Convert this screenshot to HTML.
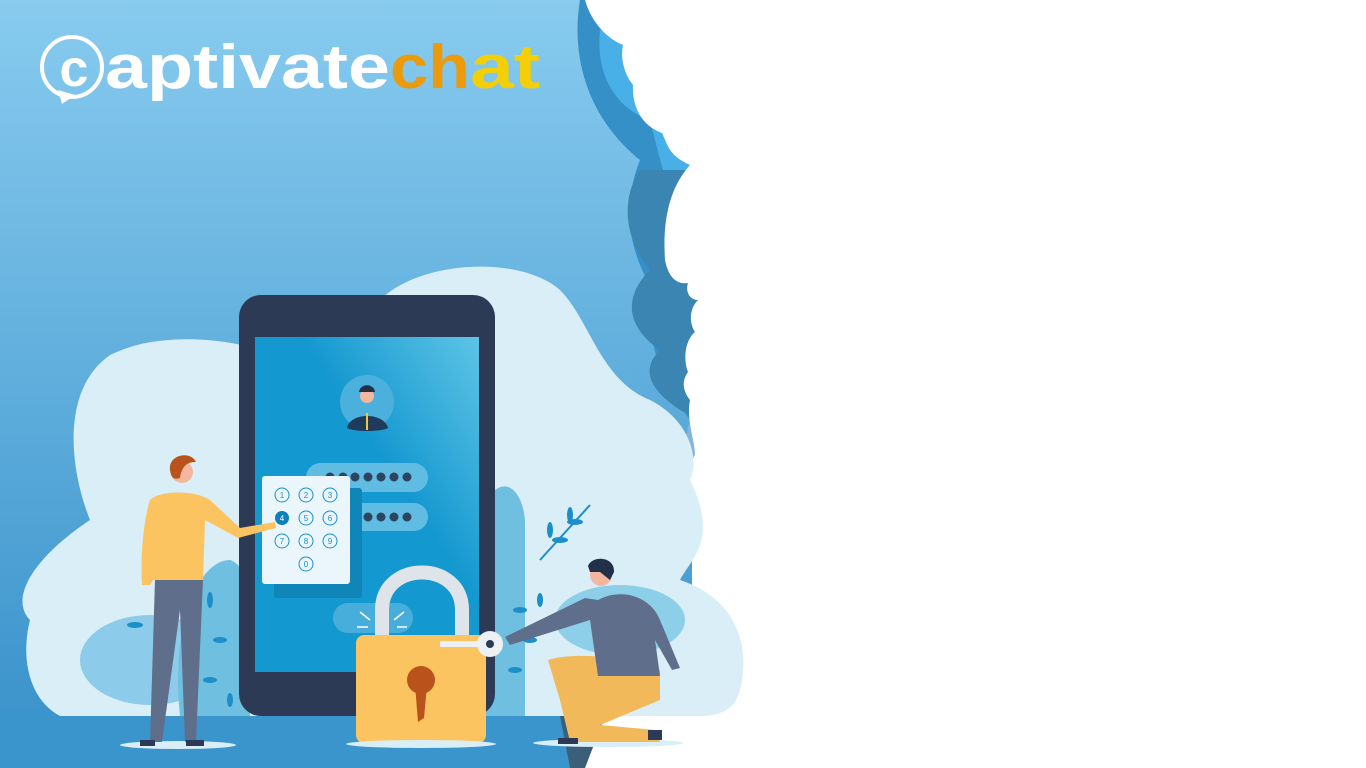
<!DOCTYPE html>
<html><head><meta charset="utf-8"><style>
html,body{margin:0;padding:0;width:1366px;height:768px;overflow:hidden;background:#fff}
svg{display:block}
</style></head><body>
<svg width="1366" height="768" viewBox="0 0 1366 768" xmlns="http://www.w3.org/2000/svg">
<defs>
<linearGradient id="bg" x1="0" y1="0" x2="0" y2="1">
<stop offset="0" stop-color="#88cbef"/><stop offset="1" stop-color="#3690c9"/>
</linearGradient>
<linearGradient id="scr" x1="0" y1="1" x2="1" y2="0">
<stop offset="0.6" stop-color="#1498d0"/><stop offset="1" stop-color="#5ec4e6"/>
</linearGradient>
</defs>
<rect width="1366" height="768" fill="url(#bg)"/>
<!-- dark wave layers -->
<path d="M580 0 C570 60 590 120 640 160 C620 210 630 260 660 300 C640 330 660 380 690 420 L740 420 L740 0Z" fill="#3490c6"/>
<path d="M600 30 C595 80 620 110 650 120 C660 160 670 200 690 250 L700 250 L700 30Z" fill="#48b0e6"/>
<path d="M640 170 C620 200 625 240 650 270 C620 300 630 330 660 350 C640 370 650 390 680 410 L700 420 L700 170Z" fill="#3a85b2"/>
<path d="M690 420 C680 460 670 500 665 540 L700 540 L700 420Z" fill="#86b4df"/>
<!-- white right region -->
<path d="M585 0 C592 25 610 40 623 45 C620 60 625 75 633 85 C632 105 640 125 662 133 C668 145 668 155 690 165 C672 185 662 215 665 260 C668 275 675 285 688 283 C685 292 690 300 698 300 C688 310 690 325 695 332 C685 340 683 360 688 372 C682 380 682 390 690 400 C686 420 695 440 695 455 C685 470 682 490 695 500 C682 520 685 540 692 560 L692 716 L600 716 L582 768 L1366 768 L1366 0Z" fill="#fff"/>
<!-- light cloud -->
<path d="M30 620 C10 600 30 560 90 520 C70 470 60 390 110 355 C160 330 230 340 260 350 L380 300 C420 260 520 255 560 290 C590 320 600 380 650 400 C690 420 700 460 690 480 C720 540 690 560 680 580 C740 600 750 650 740 690 C735 710 720 716 700 716 L60 716 C30 700 20 660 30 620Z" fill="#d9eef7"/>
<rect x="0" y="716" width="580" height="52" fill="#3a95cd"/>
<path d="M560 716 L605 716 L585 768 L570 768Z" fill="#3b5f78"/>
<!-- background plants -->
<ellipse cx="150" cy="660" rx="70" ry="45" fill="#8cccea"/>
<ellipse cx="620" cy="620" rx="65" ry="35" fill="#8dcfe8"/>
<path d="M470 560 C480 470 520 470 525 520 L525 716 L470 716Z" fill="#6fc0e0"/>
<path d="M180 716 C170 620 200 560 230 560 C260 570 250 650 250 716Z" fill="#6fc0e0"/>
<g fill="#1c8fca">
<path d="M540 560 l50 -55" stroke="#1c8fca" stroke-width="2"/>
<ellipse cx="560" cy="540" rx="8" ry="3"/><ellipse cx="575" cy="522" rx="8" ry="3"/><ellipse cx="550" cy="530" rx="3" ry="8"/><ellipse cx="570" cy="515" rx="3" ry="8"/>
<ellipse cx="520" cy="610" rx="7" ry="3"/><ellipse cx="530" cy="640" rx="7" ry="3"/><ellipse cx="515" cy="670" rx="7" ry="3"/><ellipse cx="540" cy="600" rx="3" ry="7"/>
<ellipse cx="135" cy="625" rx="8" ry="3"/><ellipse cx="210" cy="600" rx="3" ry="8"/><ellipse cx="220" cy="640" rx="7" ry="3"/><ellipse cx="210" cy="680" rx="7" ry="3"/><ellipse cx="230" cy="700" rx="3" ry="7"/>
</g>
<!-- phone -->
<rect x="239" y="295" width="256" height="421" rx="22" fill="#2d3a55"/>
<rect x="255" y="337" width="224" height="335" fill="url(#scr)"/>
<circle cx="367" cy="402" r="27" fill="#4bb0dc"/>
<path d="M347 428 C350 412 384 412 388 428 C380 432 355 432 347 428Z" fill="#1f3a5a"/>
<rect x="366" y="413" width="2" height="17" fill="#f4c63d"/>
<circle cx="367" cy="396" r="7" fill="#f3b7a0"/>
<path d="M359 392 C360 383 374 383 375 392Z" fill="#23304a"/>
<rect x="306" y="463" width="122" height="29" rx="14.5" fill="#60bce3"/>
<rect x="306" y="503" width="122" height="28" rx="14" fill="#60bce3"/>
<g fill="#2d4460">
<circle cx="330" cy="477" r="4.5"/><circle cx="343" cy="477" r="4.5"/><circle cx="355" cy="477" r="4.5"/><circle cx="368" cy="477" r="4.5"/><circle cx="381" cy="477" r="4.5"/><circle cx="394" cy="477" r="4.5"/><circle cx="407" cy="477" r="4.5"/>
<circle cx="355" cy="517" r="4.5"/><circle cx="368" cy="517" r="4.5"/><circle cx="381" cy="517" r="4.5"/><circle cx="394" cy="517" r="4.5"/><circle cx="407" cy="517" r="4.5"/>
</g>
<rect x="333" y="603" width="80" height="30" rx="15" fill="#47aedb"/>
<!-- keypad -->
<rect x="274" y="488" width="88" height="110" rx="3" fill="#0f85b8"/>
<rect x="262" y="476" width="88" height="108" rx="3" fill="#eaf6fb"/>
<g font-family="Liberation Sans, sans-serif" font-size="8" fill="#1c8fca" text-anchor="middle" stroke-width="1">
<g fill="none" stroke="#1c8fca"><circle cx="282" cy="495" r="7"/><circle cx="306" cy="495" r="7"/><circle cx="330" cy="495" r="7"/><circle cx="306" cy="518" r="7"/><circle cx="330" cy="518" r="7"/><circle cx="282" cy="541" r="7"/><circle cx="306" cy="541" r="7"/><circle cx="330" cy="541" r="7"/><circle cx="306" cy="564" r="7"/></g>
<circle cx="282" cy="518" r="7" fill="#0d7fbd"/>
<text x="282" y="498">1</text><text x="306" y="498">2</text><text x="330" y="498">3</text>
<text x="282" y="521" fill="#fff">4</text><text x="306" y="521">5</text><text x="330" y="521">6</text>
<text x="282" y="544">7</text><text x="306" y="544">8</text><text x="330" y="544">9</text><text x="306" y="567">0</text>
</g>
<!-- lock -->
<path d="M382 640 L382 610 C382 560 462 560 462 610 L462 640" fill="none" stroke="#dfe4ea" stroke-width="14"/>
<rect x="356" y="635" width="130" height="108" rx="8" fill="#fbc460"/>
<circle cx="421" cy="680" r="14" fill="#b9531b"/>
<path d="M415 685 L427 685 L424 718 L418 722Z" fill="#b9531b"/>
<g stroke="#fff" stroke-width="1.5"><line x1="360" y1="612" x2="370" y2="620"/><line x1="404" y1="612" x2="394" y2="620"/><line x1="357" y1="627" x2="368" y2="627"/><line x1="397" y1="627" x2="407" y2="627"/></g>
<rect x="440" y="641" width="40" height="6" fill="#eef1f4"/>
<circle cx="490" cy="644" r="13" fill="#eef1f4"/><circle cx="490" cy="644" r="4" fill="#2d3a55"/>
<!-- shadows -->
<ellipse cx="178" cy="745" rx="58" ry="4" fill="#d9eef7"/>
<ellipse cx="421" cy="744" rx="75" ry="4" fill="#d9eef7"/>
<ellipse cx="608" cy="743" rx="75" ry="4" fill="#d9eef7"/>
<!-- standing man -->
<path d="M155 580 L203 580 L196 742 L185 742 L180 610 L162 742 L150 742Z" fill="#5f6f8b"/>
<path d="M150 500 C160 490 195 490 210 500 L240 528 L275 522 L276 528 L238 538 L205 520 L203 580 L155 580 L153 580 L150 585 L142 585 C140 550 145 515 150 500Z" fill="#fbc460"/>
<circle cx="182" cy="472" r="11" fill="#f3b7a0"/>
<path d="M170 470 C168 455 190 450 196 462 C188 462 182 465 180 478 C174 480 171 478 170 470Z" fill="#b9531b"/>
<rect x="140" y="740" width="15" height="6" fill="#2d3a55"/><rect x="186" y="740" width="18" height="6" fill="#2d3a55"/>
<!-- kneeling man -->
<path d="M548 660 C580 650 640 660 660 670 L660 700 L600 725 L655 730 L660 742 L570 742 L560 700Z" fill="#f2b95a"/>
<path d="M598 600 C620 588 650 595 660 620 L680 668 L672 670 L655 640 L660 676 L598 676 L590 620 L510 645 L505 637 L585 598Z" fill="#5f6f8b"/>
<circle cx="601" cy="575" r="11" fill="#f3b7a0"/>
<path d="M588 566 C592 555 615 556 614 572 L610 580 L600 572 L590 572Z" fill="#23304a"/>
<rect x="558" y="738" width="20" height="6" fill="#2d3a55"/><rect x="648" y="730" width="14" height="10" fill="#2d3a55"/>
<!-- logo -->
<circle cx="72" cy="67" r="30" fill="none" stroke="#fff" stroke-width="4"/>
<path d="M58 90 L62 104 L75 95Z" fill="#fff"/>
<text x="74" y="86" font-family="Liberation Sans, sans-serif" font-weight="bold" font-size="52" fill="#fff" text-anchor="middle">c</text>
<text x="105" y="88" font-family="Liberation Sans, sans-serif" font-weight="bold" font-size="62" fill="#fff" textLength="285" lengthAdjust="spacingAndGlyphs">aptivate</text>
<text x="390" y="88" font-family="Liberation Sans, sans-serif" font-weight="bold" font-size="62" fill="#eb9a0c" textLength="80" lengthAdjust="spacingAndGlyphs">ch</text>
<text x="470" y="88" font-family="Liberation Sans, sans-serif" font-weight="bold" font-size="62" fill="#f5cf05" textLength="70" lengthAdjust="spacingAndGlyphs">at</text>
</svg>
</body></html>
